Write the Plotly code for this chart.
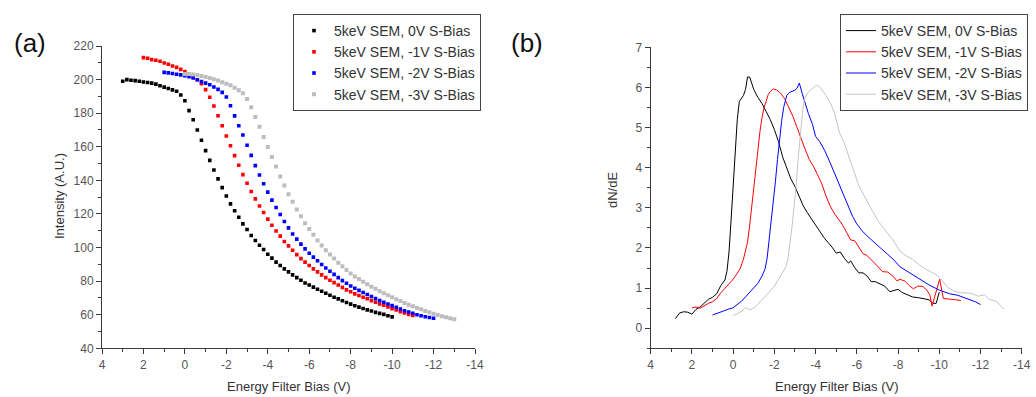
import plotly.graph_objects as go

# ---------------- (a) integrated intensity vs. energy-filter bias ----------------
BIAS_STEP = 0.2  # filter bias step of the sweep (V)

names = ["5keV SEM, 0V S-Bias", "5keV SEM, -1V S-Bias",
         "5keV SEM, -2V S-Bias", "5keV SEM, -3V S-Bias"]
colors = ["#000000", "#ff0000", "#0000ff", "#bdbdbd"]

# first bias value of each sweep (V)
sweep_start = [3.0, 2.0, 1.0, 0.0]

intensity_0v = [199.0, 200.0, 199.6, 199.4, 199.0, 198.6, 198.3, 197.9, 197.3, 196.3,
                195.5, 194.7, 193.9, 193.1, 190.8, 187.4, 181.5, 176.1, 170.0, 163.9,
                157.7, 151.9, 146.2, 140.9, 135.7, 130.7, 126.0, 121.9, 118.0, 114.1,
                110.7, 107.2, 104.2, 101.4, 98.8, 96.0, 93.7, 91.3, 89.3, 87.3,
                85.5, 83.7, 82.1, 80.5, 78.9, 77.7, 76.4, 75.2, 74.0, 72.8,
                71.6, 70.4, 69.4, 68.3, 67.3, 66.3, 65.3, 64.5, 63.7, 62.9,
                62.2, 61.4, 60.8, 60.2, 59.4, 58.7]
intensity_1v = [213.1, 212.7, 211.9, 211.5, 210.9, 209.9, 209.1, 208.1, 207.3, 206.1,
                204.8, 203.4, 201.7, 199.9, 197.5, 194.0, 189.5, 184.3, 178.5, 172.5,
                166.4, 160.6, 154.7, 149.0, 143.4, 138.3, 133.4, 129.0, 124.7, 120.9,
                116.9, 113.3, 109.8, 106.8, 103.6, 101.0, 98.4, 95.8, 93.4, 91.3,
                89.3, 87.3, 85.5, 83.7, 82.1, 80.5, 79.1, 77.7, 76.3, 74.8,
                73.7, 72.4, 71.4, 70.4, 69.5, 68.4, 67.4, 66.4, 65.6, 64.6,
                63.6, 62.8, 61.8, 61.1, 60.2, 59.5]
intensity_2v = [204.3, 204.0, 203.6, 203.2, 202.8, 202.3, 201.7, 201.0, 199.9, 198.8,
                197.9, 196.9, 195.6, 194.2, 192.4, 189.6, 184.4, 178.4, 172.5, 167.0,
                160.9, 154.9, 148.8, 143.2, 138.0, 133.0, 128.2, 123.8, 119.7, 115.5,
                111.7, 108.1, 105.0, 102.0, 99.2, 96.6, 94.3, 92.1, 89.9, 87.8,
                85.9, 84.0, 82.1, 80.3, 78.7, 77.1, 75.8, 74.5, 73.2, 72.0,
                70.8, 69.6, 68.4, 67.4, 66.4, 65.4, 64.4, 63.4, 62.4, 61.6,
                60.9, 60.0, 59.4, 58.8, 58.3, 57.9]
intensity_3v = [203.4, 203.3, 203.1, 202.7, 202.2, 201.6, 201.0, 200.2, 199.4, 198.4,
                197.5, 196.6, 195.2, 193.6, 191.8, 188.5, 183.5, 177.7, 171.9, 165.8,
                159.9, 153.9, 148.3, 142.3, 137.0, 131.8, 127.2, 122.7, 118.6, 114.5,
                111.0, 107.6, 104.2, 101.2, 98.4, 95.8, 93.4, 91.0, 88.9, 86.6,
                84.6, 82.8, 81.2, 79.6, 78.2, 76.7, 75.4, 74.0, 72.8, 71.6,
                70.4, 69.2, 68.2, 67.0, 66.0, 65.0, 64.0, 63.3, 62.2, 61.5,
                60.6, 59.9, 59.1, 58.5, 57.9, 57.3]
intensities = [intensity_0v, intensity_1v, intensity_2v, intensity_3v]

# ---------------- (b) dN/dE spectra ----------------
dnde_bias_0v = [2.8, 2.6, 2.4, 2.2, 2.0, 1.8, 1.6, 1.4, 1.2, 1.0, 0.8, 0.6, 0.4, 0.3, 0.2,
                0.1, 0.0, -0.1, -0.2, -0.3, -0.4, -0.5, -0.6, -0.7, -0.8, -0.9, -1.0,
                -1.2, -1.4, -1.6, -1.8, -2.0, -2.2, -2.4, -2.6, -2.8, -3.0, -3.2, -3.4,
                -3.6, -3.8, -4.0, -4.2, -4.4, -4.6, -4.8, -5.0, -5.2, -5.4, -5.6, -5.7,
                -5.9, -6.1, -6.3, -6.5, -6.7, -6.9, -7.1, -7.35, -7.6, -7.8, -8.0, -8.2,
                -8.4, -8.7, -9.0, -9.3, -9.5, -9.7, -9.85, -10.0]
dnde_0v = [0.24, 0.38, 0.41, 0.40, 0.35, 0.47, 0.53, 0.62, 0.72, 0.77, 0.86, 1.06, 1.20, 1.42, 1.90,
           2.70, 3.50, 4.40, 5.20, 5.65, 5.72, 5.80, 5.95, 6.26, 6.26, 6.10, 5.95,
           5.75, 5.60, 5.40, 5.20, 4.95, 4.65, 4.27, 3.98, 3.72, 3.53, 3.28, 3.05,
           2.88, 2.74, 2.57, 2.42, 2.26, 2.14, 2.02, 1.87, 1.90, 1.74, 1.62, 1.68,
           1.51, 1.38, 1.38, 1.30, 1.16, 1.16, 1.11, 1.05, 0.91, 0.94, 0.97, 0.89,
           0.84, 0.78, 0.76, 0.74, 0.71, 0.62, 0.62, 0.90]

dnde_bias_1v = [2.0, 1.8, 1.6, 1.4, 1.2, 1.0, 0.8, 0.6, 0.4, 0.2, 0.0, -0.2, -0.35, -0.5,
                -0.6, -0.7, -0.8, -0.9, -1.0, -1.1, -1.2, -1.3, -1.4, -1.5, -1.6, -1.7,
                -1.8, -1.95, -2.1, -2.3, -2.5, -2.7, -2.9, -3.1, -3.3, -3.5, -3.7, -3.9,
                -4.1, -4.3, -4.5, -4.7, -4.9, -5.1, -5.3, -5.5, -5.7, -5.9, -6.1, -6.3,
                -6.5, -6.75, -7.0, -7.25, -7.5, -7.75, -7.95, -8.1, -8.35, -8.55, -8.75,
                -8.95, -9.2, -9.4, -9.55, -9.65, -10.02, -10.2, -10.5, -10.8, -11.05]
dnde_1v = [0.51, 0.53, 0.50, 0.57, 0.62, 0.66, 0.74, 0.88, 0.99, 1.10, 1.22, 1.37, 1.50, 1.72,
           1.92, 2.15, 2.55, 3.05, 3.55, 4.00, 4.55, 4.90, 5.25, 5.50, 5.65, 5.82,
           5.90, 5.96, 5.94, 5.86, 5.72, 5.52, 5.28, 5.00, 4.70, 4.45, 4.20, 4.03,
           3.82, 3.60, 3.30, 3.05, 2.87, 2.72, 2.58, 2.39, 2.20, 2.18, 2.01, 1.86,
           1.81, 1.69, 1.55, 1.41, 1.40, 1.30, 1.18, 1.22, 1.17, 1.06, 0.98,
           1.05, 1.04, 0.95, 0.82, 0.55, 1.22, 0.74, 0.73, 0.71, 0.69]

dnde_bias_2v = [1.0, 0.8, 0.6, 0.4, 0.2, 0.0, -0.2, -0.4, -0.6, -0.8, -1.0, -1.2, -1.4,
                -1.55, -1.65, -1.75, -1.85, -1.95, -2.05, -2.15, -2.25, -2.35, -2.45,
                -2.6, -2.75, -3.0, -3.1, -3.21, -3.35, -3.5, -3.65, -3.85, -4.0, -4.2,
                -4.45, -4.7, -4.95, -5.2, -5.4, -5.6, -5.8, -6.0, -6.25, -6.5, -6.8,
                -7.15, -7.5, -7.8, -8.1, -8.5, -8.8, -9.1, -9.5, -10.0, -10.5, -10.9,
                -11.35, -11.75, -12.0]
dnde_2v = [0.33, 0.37, 0.40, 0.45, 0.48, 0.51, 0.58, 0.67, 0.78, 0.89, 0.99, 1.12, 1.30,
           1.48, 1.75, 2.20, 2.70, 3.20, 3.65, 4.20, 4.75, 5.15, 5.50,
           5.80, 5.88, 5.93, 5.98, 6.11, 5.85, 5.60, 5.35, 5.08, 4.78, 4.65,
           4.42, 4.13, 3.83, 3.53, 3.25, 3.02, 2.78, 2.60, 2.43, 2.30, 2.15,
           2.00, 1.84, 1.70, 1.53, 1.40, 1.30, 1.20, 1.08, 0.95, 0.86, 0.82,
           0.74, 0.66, 0.59]

dnde_bias_3v = [0.0, -0.2, -0.4, -0.6, -0.8, -1.0, -1.2, -1.4, -1.6, -1.8, -2.0, -2.2, -2.4,
                -2.55, -2.65, -2.75, -2.85, -2.95, -3.05, -3.15, -3.25, -3.35, -3.45,
                -3.6, -3.8, -4.0, -4.1, -4.25, -4.5, -4.75, -4.95, -5.15, -5.4, -5.65,
                -5.9, -6.1, -6.3, -6.5, -6.75, -7.05, -7.4, -7.75, -8.1, -8.4, -8.7,
                -9.05, -9.35, -9.6, -9.9, -10.15, -10.4, -10.7, -11.05, -11.4, -11.6,
                -11.9, -12.2, -12.4, -12.75, -13.0, -13.15]
dnde_3v = [0.32, 0.36, 0.42, 0.51, 0.46, 0.50, 0.60, 0.70, 0.82, 0.93, 1.05, 1.22, 1.40,
           1.52, 1.70, 2.05, 2.50, 3.00, 3.50, 4.20, 4.80, 5.30, 5.70,
           5.86, 5.95, 6.04, 6.05, 5.98, 5.80, 5.58, 5.30, 4.88, 4.60, 4.25,
           3.85, 3.55, 3.35, 3.18, 2.93, 2.66, 2.43, 2.20, 1.92, 1.80, 1.72,
           1.57, 1.47, 1.40, 1.32, 1.18, 1.02, 0.93, 0.88, 0.88, 0.86,
           0.80, 0.83, 0.72, 0.68, 0.55, 0.47]

dnde_bias = [dnde_bias_0v, dnde_bias_1v, dnde_bias_2v, dnde_bias_3v]
dnde = [dnde_0v, dnde_1v, dnde_2v, dnde_3v]

# tick labels (plain hyphen for negatives)
bias_ticks = [4, 2, 0, -2, -4, -6, -8, -10, -12, -14]
bias_ticktext = ["4", "2", "0", "-2", "-4", "-6", "-8", "-10", "-12", "-14"]
intensity_ticks = [40, 60, 80, 100, 120, 140, 160, 180, 200, 220]
dnde_ticks = [0, 1, 2, 3, 4, 5, 6, 7]

FONT = "Liberation Sans, Arial, sans-serif"
W, H = 1036, 397

fig = go.Figure()

for name, color, start, vals in zip(names, colors, sweep_start, intensities):
    bias = [round(start - BIAS_STEP * i, 2) for i in range(len(vals))]
    fig.add_trace(go.Scatter(
        x=bias, y=vals, mode="markers", name=name,
        marker=dict(symbol="square", size=3.6 if color != "#bdbdbd" else 4.0,
                    color=color, line=dict(width=0)),
        xaxis="x", yaxis="y", legend="legend",
    ))

line_colors = ["#000000", "#ff0000", "#0000ff", "#c4c4c4"]
for name, color, bx, vals in zip(names, line_colors, dnde_bias, dnde):
    fig.add_trace(go.Scatter(
        x=bx, y=vals, mode="lines", name=name,
        line=dict(color=color, width=1),
        xaxis="x2", yaxis="y2", legend="legend2",
    ))


def px_x(p):
    return p / W


def px_y(p):
    return 1 - p / H


axis_common = dict(
    showline=True, linecolor="#3a3a3a", linewidth=1, mirror=False, automargin=False,
    showgrid=False, zeroline=False, ticks="outside", ticklen=5, tickwidth=1,
    tickcolor="#3a3a3a", tickfont=dict(family=FONT, size=12, color="#555555"),
)

bias_minor = [v - 1 for v in bias_ticks[:-1]]

fig.update_layout(
    width=W, height=H, autosize=False,
    margin=dict(l=0, r=0, t=0, b=0, pad=0),
    paper_bgcolor="white", plot_bgcolor="white",
    font=dict(family=FONT, color="#333333"),
    xaxis=dict(domain=[px_x(102), px_x(475)], range=[4, -14], anchor="y",
               tickmode="array", tickvals=bias_ticks, ticktext=bias_ticktext,
               minor=dict(tickmode="array", tickvals=bias_minor, ticks="outside",
                          ticklen=3, tickcolor="#3a3a3a"),
               **axis_common),
    yaxis=dict(domain=[px_y(348.3), px_y(46)], range=[40, 220], anchor="x",
               tickmode="array", tickvals=intensity_ticks,
               minor=dict(tickmode="array", tickvals=[v + 10 for v in intensity_ticks[:-1]],
                          ticks="outside", ticklen=3, tickcolor="#3a3a3a"),
               **axis_common),
    xaxis2=dict(domain=[px_x(650.7), px_x(1021.7)], range=[4, -14], anchor="y2",
                tickmode="array", tickvals=bias_ticks, ticktext=bias_ticktext,
                minor=dict(tickmode="array", tickvals=bias_minor, ticks="outside",
                           ticklen=3, tickcolor="#3a3a3a"),
                **axis_common),
    yaxis2=dict(domain=[px_y(348.3), px_y(47.3)], range=[-0.5, 7], anchor="x2",
                tickmode="array", tickvals=dnde_ticks,
                minor=dict(tickmode="array", tickvals=[v - 0.5 for v in dnde_ticks],
                           ticks="outside", ticklen=3, tickcolor="#3a3a3a"),
                **axis_common),
    legend=dict(x=px_x(293), y=px_y(14), xanchor="left", yanchor="top",
                bgcolor="white", bordercolor="#444444", borderwidth=1,
                font=dict(family=FONT, size=14, color="#333333"),
                tracegroupgap=0, itemwidth=30),
    legend2=dict(x=px_x(840), y=px_y(14), xanchor="left", yanchor="top",
                 bgcolor="white", bordercolor="#444444", borderwidth=1,
                 font=dict(family=FONT, size=14, color="#333333"),
                 tracegroupgap=0, itemwidth=30),
    showlegend=True,
)

title_font = dict(family=FONT, size=13, color="#333333")
annotations = [
    dict(text="(a)", x=px_x(30), y=px_y(43), font=dict(family=FONT, size=26, color="#111111")),
    dict(text="(b)", x=px_x(527), y=px_y(43), font=dict(family=FONT, size=26, color="#111111")),
    dict(text="Energy Filter Bias (V)", x=px_x(288.5), y=px_y(386), font=title_font),
    dict(text="Energy Filter Bias (V)", x=px_x(836.5), y=px_y(386.5), font=title_font),
    dict(text="Intensity (A.U.)", x=px_x(59), y=px_y(196), textangle=-90, font=title_font),
    dict(text="dN/dE", x=px_x(612), y=px_y(190), textangle=-90, font=title_font),
]
for a in annotations:
    fig.add_annotation(xref="paper", yref="paper", showarrow=False,
                       xanchor="center", yanchor="middle", **a)

fig.write_html("out.html")
